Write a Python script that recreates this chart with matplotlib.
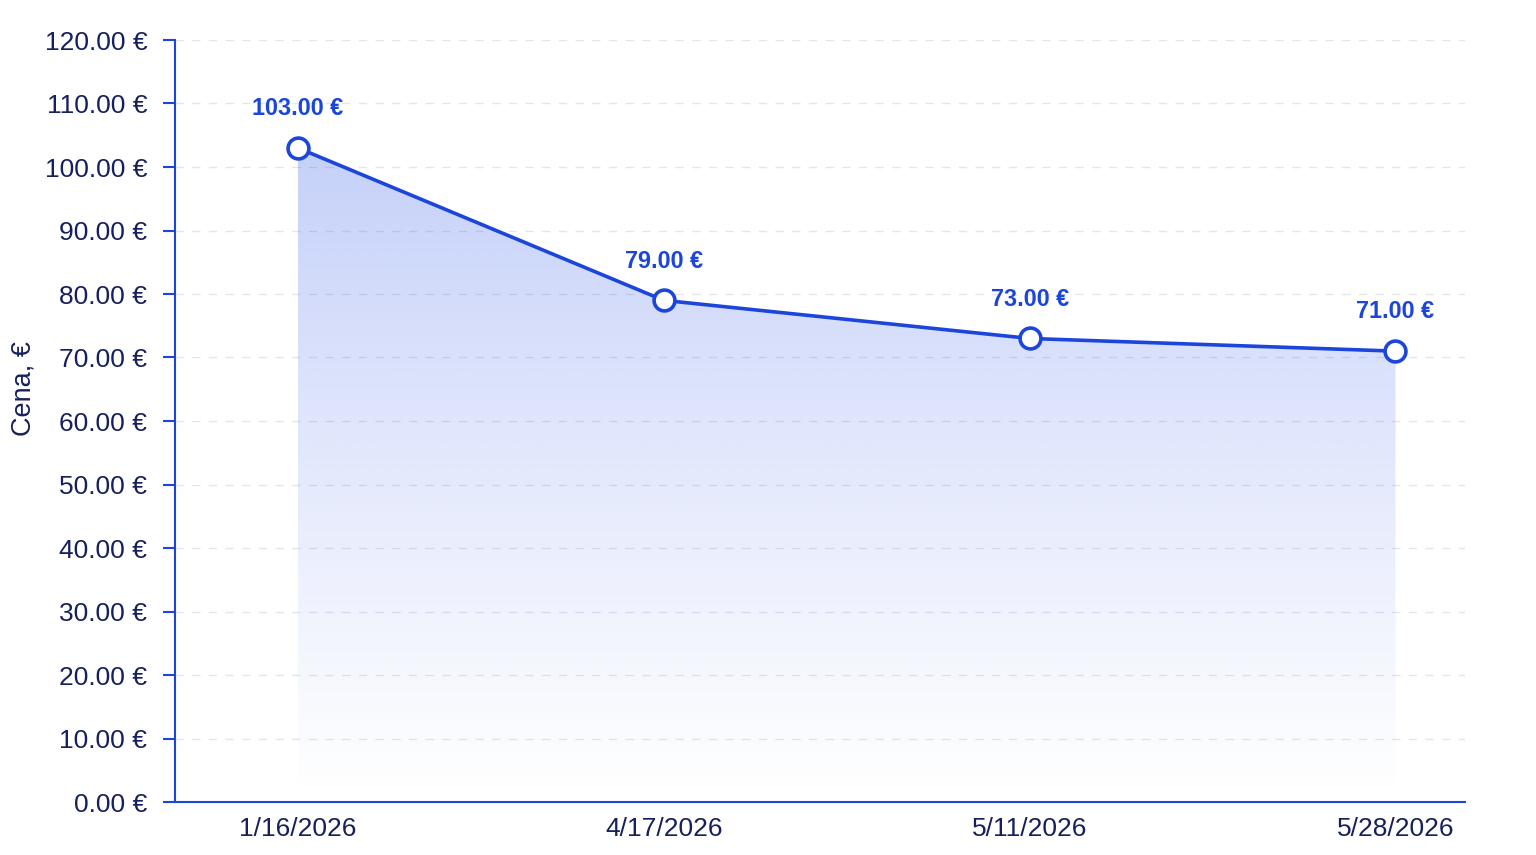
import numpy as np
import matplotlib.pyplot as plt
from matplotlib.patches import Polygon
from matplotlib.ticker import FuncFormatter

plt.rcParams['font.family'] = ['Liberation Sans', 'DejaVu Sans']

dates = ["1/16/2026", "4/17/2026", "5/11/2026", "5/28/2026"]
prices = [103.0, 79.0, 73.0, 71.0]

line_color = "#1c45dc"
navy = "#16205e"

fig = plt.figure(figsize=(15.36, 8.55), dpi=100)
ax = fig.add_axes([175 / 1536, 53 / 855, 1290 / 1536, 762 / 855])

x = np.arange(len(dates))
ax.set_xlim(-0.336, 3.19)
ax.set_ylim(0, 120)

# gradient fill under the line, clipped to the area polygon
verts = [(x[0], 0)] + list(zip(x, prices)) + [(x[-1], 0)]
poly = Polygon(verts, closed=True, facecolor="none", edgecolor="none")
ax.add_patch(poly)
grad = np.linspace(0, 1, 256).reshape(-1, 1) ** 1.1
rgba = np.zeros((256, 1, 4))
rgba[..., 0] = 0x2f / 255
rgba[..., 1] = 0x58 / 255
rgba[..., 2] = 0xea / 255
rgba[..., 3] = grad * 0.28
img = ax.imshow(rgba, extent=[x[0], x[-1], 0, max(prices)], origin="lower",
                aspect="auto", zorder=1, interpolation="bilinear")
img.set_clip_path(poly)

ax.plot(x, prices, color=line_color, linewidth=2.6, zorder=3,
        marker="o", markersize=15, markerfacecolor="white",
        markeredgecolor=line_color, markeredgewidth=2.6)

for xi, p in zip(x, prices):
    ax.annotate(f"{p:.2f} €", (xi, p), xytext=(0, 20), textcoords="offset points",
                ha="center", va="bottom", fontsize=16.8, fontweight="bold",
                color=line_color, zorder=4)

ax.set_yticks(np.arange(0, 121, 10))
ax.yaxis.set_major_formatter(FuncFormatter(lambda v, _: f"{v:.2f} €"))
ax.set_xticks(x)
ax.set_xticklabels(dates)

ax.grid(axis="y", linestyle=(0, (6, 6)), color="#e4e6ec", linewidth=1)
ax.set_axisbelow(True)

for s in ["top", "right"]:
    ax.spines[s].set_visible(False)
for s in ["left", "bottom"]:
    ax.spines[s].set_color(line_color)
    ax.spines[s].set_linewidth(1.5)

ax.tick_params(axis="y", colors=line_color, length=9, width=1.5, labelsize=19,
               labelcolor=navy, pad=11)
ax.tick_params(axis="x", length=0, labelsize=19, labelcolor=navy, pad=11)

ax.set_ylabel("Cena, €", fontsize=19.5, color=navy)
ax.yaxis.set_label_coords(-0.107, 0.543)

fig.savefig("out.png", dpi=100)
